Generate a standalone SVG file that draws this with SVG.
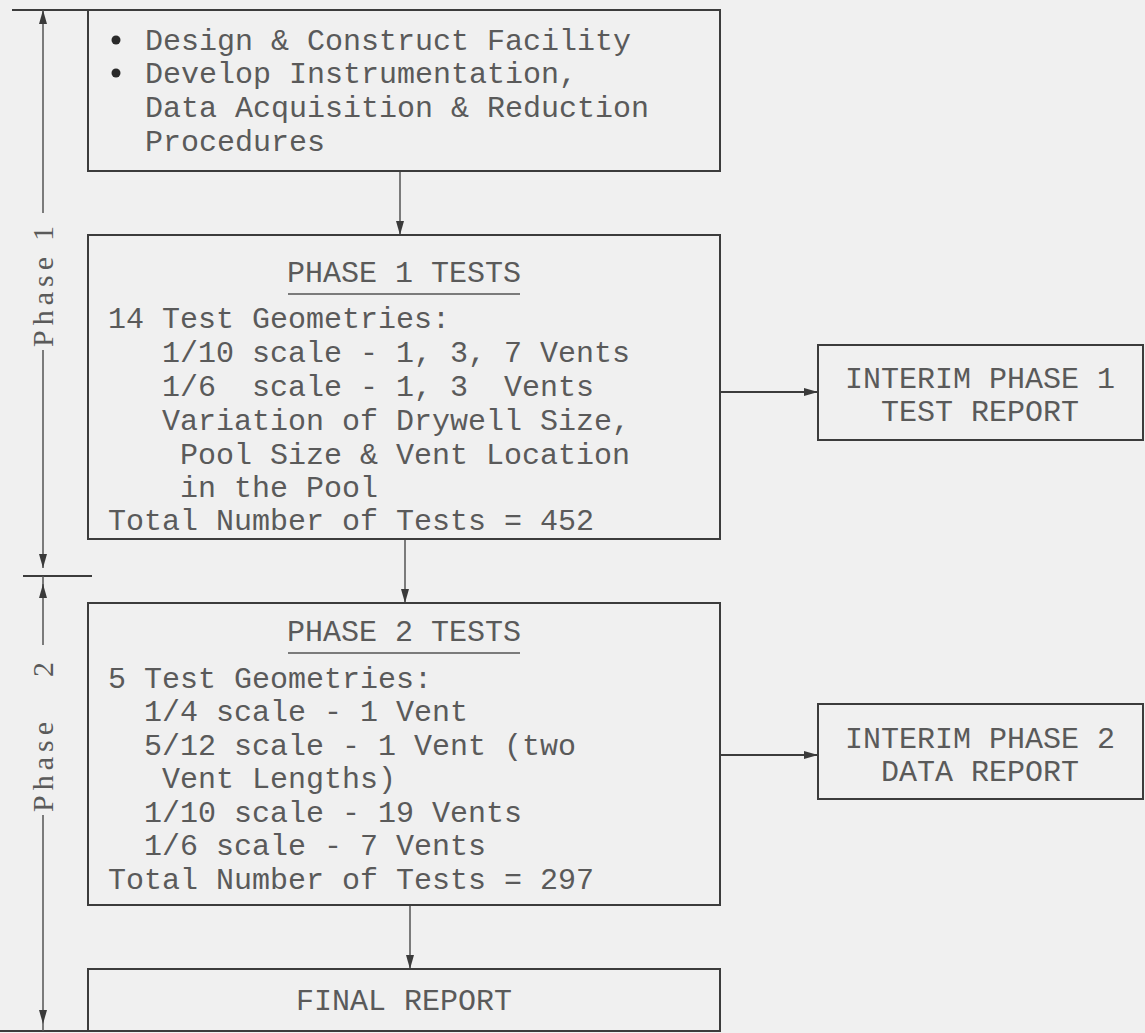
<svg xmlns="http://www.w3.org/2000/svg" width="1145" height="1033" viewBox="0 0 1145 1033">
<defs>
<marker id="ahl" viewBox="0 0 14 10" refX="14" refY="5" markerWidth="14" markerHeight="10" markerUnits="userSpaceOnUse" orient="auto">
<path d="M0,1 L14,5 L0,9 Z" fill="#3a3a3a"/>
</marker>
</defs>
<style>
.bg{fill:#f0f0f0}
.box{fill:none;stroke:#3c3c3c;stroke-width:2}
.ln{fill:none;stroke:#3c3c3c;stroke-width:2}
.thin{fill:none;stroke:#555;stroke-width:1.5}
.t{font-family:"Liberation Mono","Courier New",monospace;font-size:30px;fill:#5a5a5a}
.c{text-anchor:middle}
.ph{font-family:"Liberation Serif","Times New Roman",serif;font-size:30px;fill:#5a5a5a;letter-spacing:5px}
.dot{fill:#2a2a2a}
</style>
<rect class="bg" x="0" y="0" width="1145" height="1033"/>

<g id="phase-markers">
<line class="ln" x1="12" y1="10" x2="88" y2="10"/>
<line class="ln" x1="0" y1="1031" x2="88" y2="1031"/>
<line class="ln" x1="23" y1="576" x2="92" y2="576"/>
<line class="thin" x1="43" y1="213" x2="43" y2="10" marker-end="url(#ahl)"/>
<line class="thin" x1="43" y1="350" x2="43" y2="568" marker-end="url(#ahl)"/>
<line class="thin" x1="43" y1="576" x2="43" y2="596"/>
<line class="thin" x1="43" y1="645" x2="43" y2="584" marker-end="url(#ahl)"/>
<line class="thin" x1="43" y1="815" x2="43" y2="1024" marker-end="url(#ahl)"/>
<line class="thin" x1="43" y1="1024" x2="43" y2="1031"/>
<text class="ph" transform="translate(53,347) rotate(-90)">Phase<tspan dx="11">1</tspan></text>
<text class="ph" transform="translate(53,812) rotate(-90)">Phase<tspan dx="40">2</tspan></text>
</g>

<g id="connectors">
<line class="thin" x1="400" y1="171" x2="400" y2="235" marker-end="url(#ahl)"/>
<line class="thin" x1="405" y1="539" x2="405" y2="603" marker-end="url(#ahl)"/>
<line class="thin" x1="410" y1="905" x2="410" y2="969" marker-end="url(#ahl)"/>
<line class="ln" x1="720" y1="392" x2="818" y2="392" marker-end="url(#ahl)"/>
<line class="ln" x1="720" y1="755" x2="818" y2="755" marker-end="url(#ahl)"/>
</g>

<g id="node-setup">
<line class="ln" x1="88" y1="10" x2="720" y2="10"/>
<rect class="box" x="88" y="10" width="632" height="161"/>
<circle class="dot" cx="116" cy="40" r="4.5"/>
<circle class="dot" cx="116" cy="73" r="4.5"/>
<text class="t" x="145" y="50">Design &amp; Construct Facility</text>
<text class="t" x="145" y="83">Develop Instrumentation,</text>
<text class="t" x="145" y="117">Data Acquisition &amp; Reduction</text>
<text class="t" x="145" y="151">Procedures</text>
</g>

<g id="node-phase1">
<rect class="box" x="88" y="235" width="632" height="304"/>
<text class="t c" x="404" y="282">PHASE 1 TESTS</text>
<line class="thin" x1="288" y1="294" x2="520" y2="294"/>
<text class="t" x="108" y="328" xml:space="preserve">14 Test Geometries:</text>
<text class="t" x="108" y="362" xml:space="preserve">   1/10 scale - 1, 3, 7 Vents</text>
<text class="t" x="108" y="396" xml:space="preserve">   1/6  scale - 1, 3  Vents</text>
<text class="t" x="108" y="430" xml:space="preserve">   Variation of Drywell Size,</text>
<text class="t" x="108" y="464" xml:space="preserve">    Pool Size &amp; Vent Location</text>
<text class="t" x="108" y="497" xml:space="preserve">    in the Pool</text>
<text class="t" x="108" y="530" xml:space="preserve">Total Number of Tests = 452</text>
</g>

<g id="node-interim1">
<rect class="box" x="818" y="345" width="325" height="95"/>
<text class="t c" x="980" y="388">INTERIM PHASE 1</text>
<text class="t c" x="980" y="421">TEST REPORT</text>
</g>

<g id="node-phase2">
<rect class="box" x="88" y="603" width="632" height="302"/>
<text class="t c" x="404" y="641">PHASE 2 TESTS</text>
<line class="thin" x1="288" y1="653" x2="520" y2="653"/>
<text class="t" x="108" y="688" xml:space="preserve">5 Test Geometries:</text>
<text class="t" x="108" y="721" xml:space="preserve">  1/4 scale - 1 Vent</text>
<text class="t" x="108" y="755" xml:space="preserve">  5/12 scale - 1 Vent (two</text>
<text class="t" x="108" y="788" xml:space="preserve">   Vent Lengths)</text>
<text class="t" x="108" y="822" xml:space="preserve">  1/10 scale - 19 Vents</text>
<text class="t" x="108" y="855" xml:space="preserve">  1/6 scale - 7 Vents</text>
<text class="t" x="108" y="889" xml:space="preserve">Total Number of Tests = 297</text>
</g>

<g id="node-interim2">
<rect class="box" x="818" y="704" width="325" height="95"/>
<text class="t c" x="980" y="748">INTERIM PHASE 2</text>
<text class="t c" x="980" y="781">DATA REPORT</text>
</g>

<g id="node-final">
<line class="ln" x1="88" y1="1031" x2="720" y2="1031"/>
<rect class="box" x="88" y="969" width="632" height="62"/>
<text class="t c" x="404" y="1010">FINAL REPORT</text>
</g>
</svg>
